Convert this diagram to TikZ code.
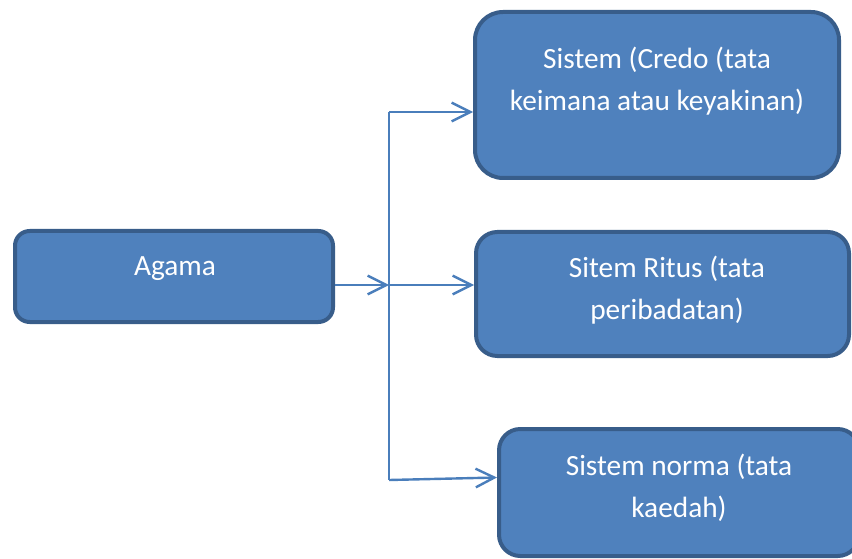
\documentclass[tikz,border=0pt]{standalone}
\usepackage{fontspec}
\setmainfont{Carlito}
\usepackage{tikz}
\usetikzlibrary{arrows.meta,calc,positioning}
\usepackage{xcolor}
\definecolor{agblue}{RGB}{79,129,189}
\definecolor{agdark}{RGB}{56,93,138}
\definecolor{agline}{RGB}{74,126,187}
\tikzstyle{kotak} = [rectangle, draw=agdark, fill=agblue, line width=3pt, inner sep=0pt]
\tikzstyle{teks} = [text=white, align=center, anchor=base, font=\fontsize{22}{31.5}\selectfont]
\tikzstyle{garis} = [line width=1.8pt, color=agline]
\tikzstyle{panah} = [garis, -{Straight Barb[length=14pt,width=14pt]}]

\begin{document}
\begin{tikzpicture}[x=0.75pt, y=-0.75pt]
\useasboundingbox (0,0) rectangle (852,559);
\clip (0,0) rectangle (852,559);

% Boxes
\node (agama) [kotak, minimum width=238.5pt, minimum height=68.25pt, rounded corners=11pt] at (174,276.5) {};
\node (credo) [kotak, minimum width=273pt, minimum height=124.5pt, rounded corners=21pt] at (657,95) {};
\node (ritus) [kotak, minimum width=279.75pt, minimum height=93pt, rounded corners=16pt] at (662.5,294) {};
\node (norma) [kotak, minimum width=270pt, minimum height=95.25pt, rounded corners=16pt] at (679,492.5) {};

% Labels (base = last line)
\node (agama-t) [teks] at (175,276) {Agama};
\node (credo-t) [teks] at (657,111) {Sistem (Credo (tata\\keimana atau keyakinan)};
\node (ritus-t) [teks] at (667,320) {Sitem Ritus (tata\\peribadatan)};
\node (norma-t) [teks] at (679,517) {Sistem norma (tata\\kaedah)};

% Branch lines
\coordinate (atas) at (389,112);
\coordinate (tengah) at (389,285);
\coordinate (bawah) at (389,480);

\draw[panah] (agama.east |- tengah) -- (tengah);
\draw[garis] (atas) -- (bawah);
\draw[panah] (atas) -- (credo.west |- atas);
\draw[panah] (tengah) -- (ritus.west |- tengah);
\draw[panah] (bawah) -- ($(norma.west)+(0,-15)$);
\end{tikzpicture}
\end{document}
